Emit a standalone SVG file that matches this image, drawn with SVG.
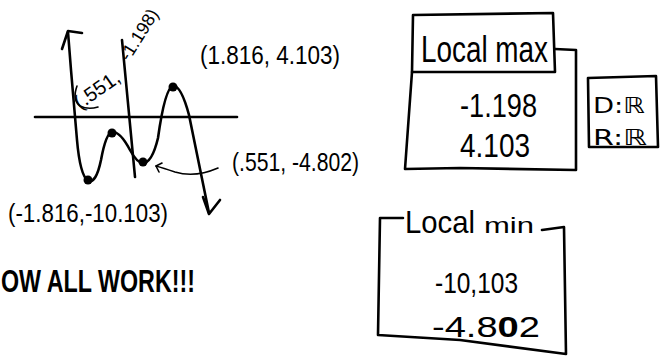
<svg xmlns="http://www.w3.org/2000/svg" width="667" height="358" viewBox="0 0 667 358">
<style>
.s{fill:none;stroke:#000;stroke-width:2.6;stroke-linecap:round;stroke-linejoin:round}
.t{stroke-width:1.6}
.h{font-family:"Liberation Sans","DejaVu Sans",sans-serif;fill:#000}
.d{font-family:"DejaVu Sans","Liberation Sans",sans-serif;fill:#000}
.dot{fill:#000}
</style>
<rect width="667" height="358" fill="#fff"/>
<g id="graph">
<line class="s" x1="122" y1="40" x2="135" y2="177"/>
<line class="s" x1="35" y1="117" x2="237" y2="117"/>
<path class="s" d="M68,32 L71,70 L77,140 Q80,175 88,181 Q96,184 101,160 Q106,133 112,132 Q120,131 130,150 Q137,163 143,163 Q152,163 158,138 Q165,88 173,86 Q181,85 189,115 L209,213"/>
<path class="s" d="M62,49 L68,31 L82,33"/>
<path class="s" d="M203,197 L209,214 L220,200"/>
<circle class="dot" cx="88" cy="180" r="4.5"/>
<circle class="dot" cx="112" cy="133" r="4.5"/>
<circle class="dot" cx="143" cy="162" r="4.5"/>
<circle class="dot" cx="173" cy="87" r="4.5"/>
<text class="h" font-size="20" transform="translate(80,110) rotate(-35)">(.551,</text>
<text class="h" font-size="18" transform="translate(129,62) rotate(-58)">-1.198)</text>
<text class="h" font-size="26" x="200" y="64" textLength="140" lengthAdjust="spacingAndGlyphs">(1.816, 4.103)</text>
<text class="h" font-size="26" x="232" y="171" textLength="127" lengthAdjust="spacingAndGlyphs">(.551, -4.802)</text>
<text class="h" font-size="25" x="8" y="222" textLength="160" lengthAdjust="spacingAndGlyphs">(-1.816,-10.103)</text>
</g>
<g id="connectors">
<path class="s t" d="M77,86 Q72,100 80,106 Q88,110 98,107"/>
<path class="s t" d="M218,168 Q195,178 175,172 Q163,168 156,166"/>
<path class="s t" d="M156,166 L162,163 M156,166 L159,172"/>
</g>
<g id="local-max">
<path class="s" d="M413,15 L553,13 L555,72 L412,72 Z"/>
<path class="s" d="M555,49 L576,50 L576,170 L460,168 L405,169 L412,72"/>
<text class="h" font-size="36" x="421" y="62" textLength="127" lengthAdjust="spacingAndGlyphs">Local max</text>
<text class="h" font-size="33" x="460" y="117" textLength="77" lengthAdjust="spacingAndGlyphs">-1.198</text>
<text class="h" font-size="33" x="460" y="157" textLength="70" lengthAdjust="spacingAndGlyphs">4.103</text>
</g>
<g id="domain-range">
<path class="s" d="M588,78 L656,76 L658,147 L589,147 Z"/>
<text class="d" font-size="22" x="593" y="113" textLength="52" lengthAdjust="spacingAndGlyphs">D:ℝ</text>
<text class="d" font-size="22" x="593" y="145" textLength="54" lengthAdjust="spacingAndGlyphs">R:ℝ</text>
</g>
<g id="local-min">
<path class="s" d="M403,218 L380,218 L378,335 L460,340 L566,354 L564,227 L542,230"/>
<text class="h" font-size="32" x="405" y="233" textLength="70" lengthAdjust="spacingAndGlyphs">Local</text>
<text class="h" font-size="22" x="484" y="233" textLength="50" lengthAdjust="spacingAndGlyphs">min</text>
<text class="h" font-size="30" x="435" y="293" textLength="83" lengthAdjust="spacingAndGlyphs">-10,103</text>
<text class="h" font-size="30" x="432" y="337" textLength="108" lengthAdjust="spacingAndGlyphs">-4.8<tspan font-weight="bold">0</tspan>2</text>
</g>
<g id="note">
<text class="h" font-size="32" font-weight="bold" x="1" y="292" textLength="194" lengthAdjust="spacingAndGlyphs">OW ALL WORK!!!</text>
</g>
</svg>
